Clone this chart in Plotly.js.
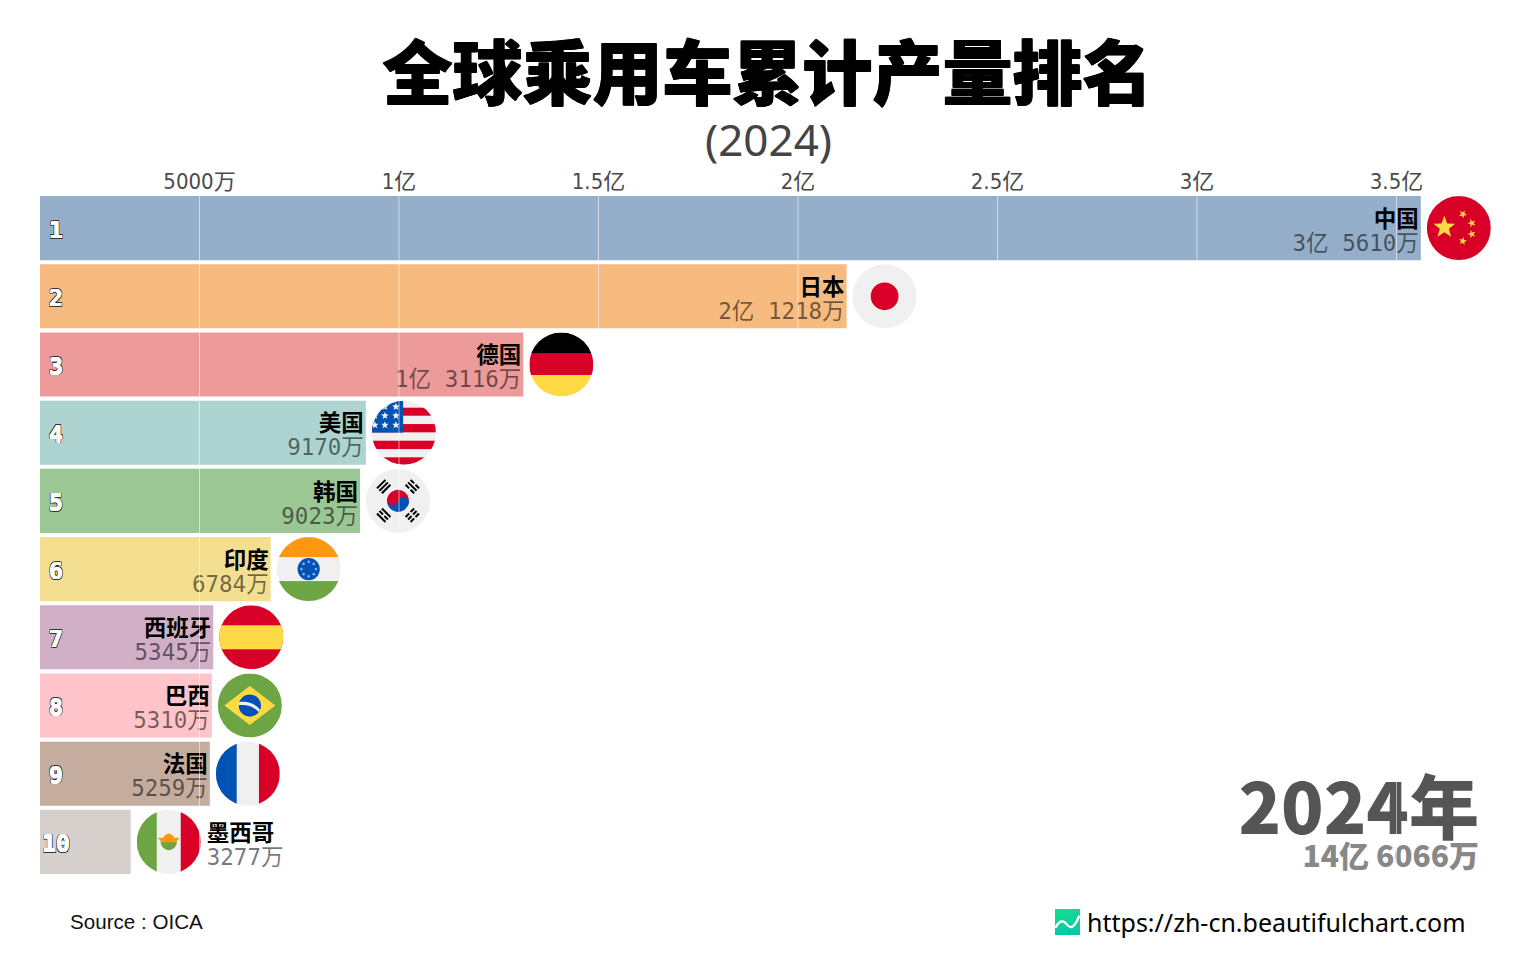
<!DOCTYPE html>
<html><head><meta charset="utf-8">
<script src="https://cdn.plot.ly/plotly-3.0.1.min.js"></script>
<style>html,body{margin:0;padding:0;background:#fff}#c{width:1536px;height:960px}</style>
</head><body><div id="c"></div>
<script>
// ---- data (unit: 万) ----
const countries = ['中国','日本','德国','美国','韩国','印度','西班牙','巴西','法国','墨西哥'];
const values = [35610,21218,13116,9170,9023,6784,5345,5310,5259,3277];
const valueLabels = ['3亿 5610万','2亿 1218万','1亿 3116万','9170万','9023万','6784万','5345万','5310万','5259万','3277万'];
const ranks = [1,2,3,4,5,6,7,8,9,10];
const barColors = ['#4E79A7','#F28E2B','#E15759','#76B7B2','#59A14F','#EDC948','#B07AA1','#FF9DA7','#9C755F','#BAB0AC'];
const flagKeys = ['cn','jp','de','us','kr','in','es','br','fr','mx'];
const tickValues = [5000,10000,15000,20000,25000,30000,35000];
const tickLabels = ['5000万','1亿','1.5亿','2亿','2.5亿','3亿','3.5亿'];
const titleText = '全球乘用车累计产量排名';
const subtitleText = '(2024)';
const yearText = '2024年';
const totalText = '14亿 6066万';
const sourceText = 'Source : OICA';
const urlText = 'https://zh-cn.beautifulchart.com';

// ---- pixel helpers ----
const W=1536,H=960,L=40,R=1496,T=194,B=876;
const k=199.5/5000;               // px per 万
const rowPx=(B-T)/10;
const xOf=p=>p/k;
const dx=p=>p/k;
const dy=p=>p/rowPx;
const yOf=p=>0.5+(p-T)/rowPx;
const px=v=>(v-L)/(R-L), py=v=>(B-v)/(B-T);

// ---- flags ----
const RED='#D80027',YEL='#FFDA44',WHT='#F0F0F0',BLU='#0052B4',GRN='#6DA544',ORG='#FF9811';
function star(cx,cy,r,c,rot){let p=[];for(let i=0;i<10;i++){const a=(rot||0)-Math.PI/2+i*Math.PI/5,q=i%2?r*0.42:r;p.push((cx+q*Math.cos(a)).toFixed(1)+','+(cy+q*Math.sin(a)).toFixed(1));}return `<polygon points="${p.join(' ')}" fill="${c}"/>`;}
function rect(x,y,w,h,c){return `<rect x="${x}" y="${y}" width="${w}" height="${h}" fill="${c}"/>`;}
const flagArt={
 cn:()=>rect(0,0,512,512,RED)+star(140,250,92,YEL)+star(288,144,34,YEL,0.5)+star(360,216,34,YEL,0.9)+star(360,304,34,YEL,-0.3)+star(288,360,34,YEL,0.2),
 jp:()=>rect(0,0,512,512,WHT)+`<circle cx="256" cy="256" r="111" fill="${RED}"/>`,
 de:()=>rect(0,0,512,170,'#000')+rect(0,170,512,172,RED)+rect(0,342,512,170,YEL),
 us:()=>{let s=rect(0,0,512,512,WHT);[[56,64],[187,66],[320,67],[453,59]].forEach(a=>s+=rect(0,a[0],512,a[1],RED));s+=rect(0,0,250,255,BLU);
   [[104,48],[192,48],[24,120],[104,120],[192,120],[24,195],[104,195],[192,195]].forEach(a=>s+=star(a[0],a[1],32,WHT));return s;},
 kr:()=>{let s=rect(0,0,512,512,WHT)+`<g transform="rotate(14 256 256)"><path d="M168 256a88 88 0 0 1 176 0z" fill="${RED}"/><path d="M168 256a88 88 0 0 0 176 0z" fill="${BLU}"/><circle cx="212" cy="256" r="44" fill="${RED}"/><circle cx="300" cy="256" r="44" fill="${BLU}"/></g>`;
   const tri=(ang,gaps)=>{let g=`<g transform="rotate(${ang} 256 256)">`;[0,1,2].forEach(i=>{const y=58+i*28;if(gaps[i])g+=rect(208,y,40,16,'#000')+rect(264,y,40,16,'#000');else g+=rect(208,y,96,16,'#000');});return g+'</g>';};
   return s+tri(-45,[0,0,0])+tri(45,[1,0,1])+tri(135,[1,1,1])+tri(225,[0,1,0]);},
 in:()=>{let s=rect(0,0,512,512,WHT)+rect(0,0,512,160,ORG)+rect(0,352,512,160,GRN)+`<circle cx="256" cy="256" r="89" fill="${BLU}"/><circle cx="256" cy="256" r="28" fill="${BLU}"/>`;
   [0,1,2,3,4,5,6,7].forEach(i=>{const a=i*Math.PI/4;s+=`<circle cx="${(256+58*Math.cos(a)).toFixed(1)}" cy="${(256+58*Math.sin(a)).toFixed(1)}" r="11" fill="#7FA8DC"/>`;});return s;},
 es:()=>rect(0,0,512,512,RED)+rect(0,160,512,192,YEL),
 br:()=>rect(0,0,512,512,GRN)+`<polygon points="256,100 460,256 256,412 52,256" fill="${YEL}"/><circle cx="256" cy="256" r="89" fill="${BLU}"/><path d="M172 228c60-10 120 8 165 60l-8 22c-44-50-105-66-166-56z" fill="${WHT}"/>`,
 fr:()=>rect(0,0,512,512,WHT)+rect(0,0,167,512,BLU)+rect(345,0,167,512,RED),
 mx:()=>rect(0,0,512,512,WHT)+rect(0,0,160,512,GRN)+rect(352,0,160,512,RED)+`<path d="M190 250a66 72 0 0 0 132 0z" fill="${GRN}"/><path d="M168 222h42l18-22 28-14 28 14 18 22h42l-32 36h-112z" fill="${ORG}"/>`
};
function svgUri(inner){const s=`<svg xmlns="http://www.w3.org/2000/svg" viewBox="0 0 512 512" width="512" height="512"><defs><clipPath id="c"><circle cx="256" cy="256" r="256"/></clipPath></defs><g clip-path="url(#c)">${inner}</g></svg>`;return 'data:image/svg+xml;charset=utf-8,'+encodeURIComponent(s);}
const logoUri='data:image/svg+xml;charset=utf-8,'+encodeURIComponent(`<svg xmlns="http://www.w3.org/2000/svg" viewBox="0 0 100 100" width="100" height="100"><defs><linearGradient id="g" x1="0" y1="0" x2="0.2" y2="1"><stop offset="0" stop-color="#14E08A"/><stop offset="1" stop-color="#0CC6A8"/></linearGradient></defs><rect width="100" height="100" fill="url(#g)"/><path d="M2 72C18 42 34 42 48 60S78 72 97 26" fill="none" stroke="#fff" stroke-width="9"/></svg>`);

// ---- traces ----
const MONO="'DejaVu Sans Mono','Noto Sans CJK SC',monospace";
const COND="'DejaVu Sans Condensed','DejaVu Sans','Noto Sans CJK SC',sans-serif";
const CJK="'Noto Sans CJK SC',sans-serif";
const outline=(c,w)=>`-${w}px -${w}px 0 ${c},${w}px -${w}px 0 ${c},-${w}px ${w}px 0 ${c},${w}px ${w}px 0 ${c}`;
const outside=values.map(v=>v<5000);
const bars={type:'bar',orientation:'h',y:ranks,x:values,marker:{color:barColors,opacity:0.6,line:{width:0}},hoverinfo:'skip',showlegend:false};
const nameTrace={type:'scatter',mode:'text',cliponaxis:false,hoverinfo:'skip',showlegend:false,
  x:values.map((v,i)=>outside[i]?v+dx(76):v-dx(2)),y:ranks.map(r=>r-dy(7)),text:countries,
  textposition:outside.map(o=>o?'middle right':'middle left'),
  textfont:{family:MONO,size:22.5,color:'#000',weight:700}};
const valueTrace={type:'scatter',mode:'text',cliponaxis:false,hoverinfo:'skip',showlegend:false,
  x:values.map((v,i)=>outside[i]?v+dx(76):v-dx(2)),y:ranks.map(r=>r+dy(17)),text:valueLabels,
  textposition:outside.map(o=>o?'middle right':'middle left'),
  textfont:{family:MONO,size:22.5,color:'rgba(0,0,0,0.55)'}};
const rankTrace={type:'scatter',mode:'text',cliponaxis:false,hoverinfo:'skip',showlegend:false,
  x:ranks.map(()=>xOf(56)),y:ranks.map(r=>r+dy(4)),text:ranks.map(String),textposition:'middle center',
  textfont:{family:"'DejaVu Sans Mono',monospace",size:23,color:'#fff',weight:700,
    shadow:outline('#fff',0.3)+','+outline('#333',1)}};
const yearTrace={type:'scatter',mode:'text',cliponaxis:false,hoverinfo:'skip',showlegend:false,
  x:[xOf(1479)],y:[yOf(816)],text:[yearText],textposition:'middle left',
  textfont:{family:CJK,size:70,color:'#555',weight:900}};
const totalTrace={type:'scatter',mode:'text',cliponaxis:false,hoverinfo:'skip',showlegend:false,
  x:[xOf(1479)],y:[yOf(859)],text:[totalText],textposition:'middle left',
  textfont:{family:CJK,size:30,color:'#888',weight:900}};

// ---- layout ----
const grid=tickValues.map(t=>({type:'line',layer:'above',xref:'x',yref:'y',x0:t,x1:t,y0:0.5,y1:yOf(B),line:{color:'rgba(255,255,255,0.55)',width:1}}));
const flags=flagKeys.map((f,i)=>({source:svgUri(flagArt[f]()),xref:'x',yref:'y',x:values[i]+dx(6),y:ranks[i],sizex:dx(64),sizey:dy(64),xanchor:'left',yanchor:'middle',sizing:'stretch',layer:'above'}));
flags.push({source:logoUri,xref:'paper',yref:'paper',x:px(1055),y:py(909),sizex:25/(R-L),sizey:26/(B-T),xanchor:'left',yanchor:'top',sizing:'stretch',layer:'above'});
const layout={width:W,height:H,margin:{l:L,r:W-R,t:T,b:H-B,pad:0},paper_bgcolor:'#fff',plot_bgcolor:'#fff',
  showlegend:false,bargap:0.06,
  title:{text:titleText,x:767.5/W,xref:'paper',xanchor:'center',y:1-75/H,yref:'container',yanchor:'middle',font:{family:CJK,size:70,color:'#000',weight:900,shadow:outline('#000',0.6)}},
  xaxis:{side:'top',range:[xOf(L),xOf(R)],tickmode:'array',tickvals:tickValues,ticktext:tickLabels,showgrid:false,zeroline:false,showline:false,ticks:'',
    tickfont:{family:COND,size:22,color:'#4a4a4a'},ticklabelstandoff:0},
  yaxis:{range:[10.5,0.5],showgrid:false,zeroline:false,showline:false,showticklabels:false,ticks:''},
  shapes:grid,images:flags,
  annotations:[
    {xref:'paper',yref:'paper',x:px(768),y:py(139),text:subtitleText,showarrow:false,xanchor:'center',yanchor:'middle',font:{family:"'Noto Sans',sans-serif",size:44,color:'#444'}},
    {xref:'paper',yref:'paper',x:px(68),y:py(921.5),text:sourceText,showarrow:false,xanchor:'left',yanchor:'middle',font:{family:"'Liberation Sans',sans-serif",size:20.6,color:'#111'}},
    {xref:'paper',yref:'paper',x:px(1085),y:py(921.5),text:urlText,showarrow:false,xanchor:'left',yanchor:'middle',font:{family:"'Noto Sans',sans-serif",size:25,color:'#000'}}
  ]};
Plotly.newPlot('c',[bars,rankTrace,nameTrace,valueTrace,yearTrace,totalTrace],layout,{displayModeBar:false,staticPlot:true});
</script></body></html>
